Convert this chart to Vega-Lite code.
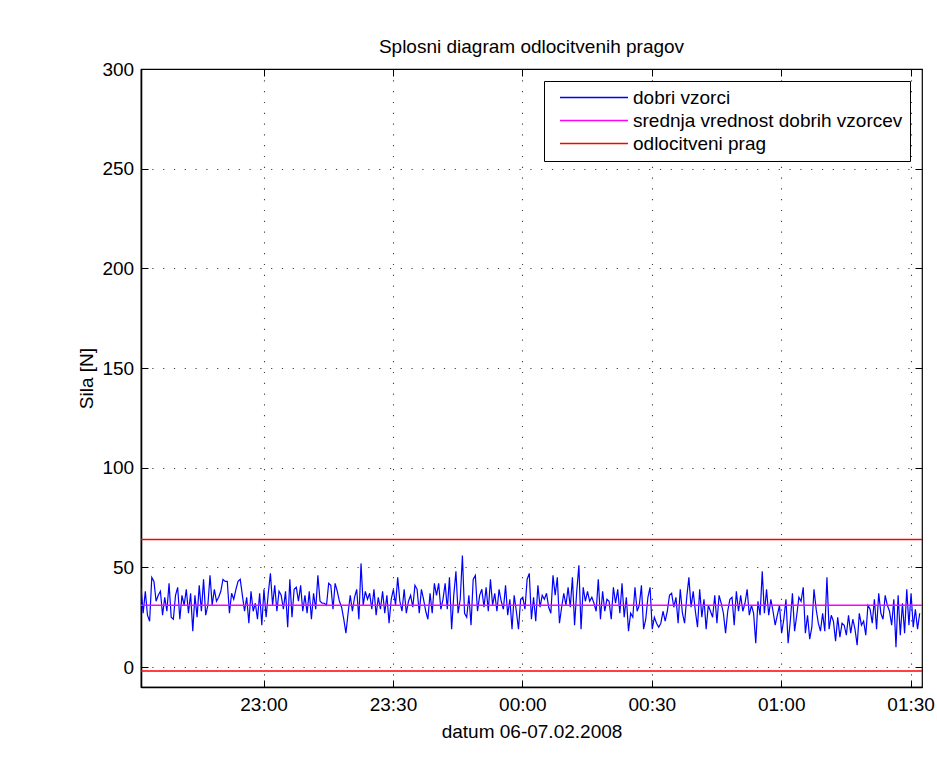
{
"$schema":"https://vega.github.io/schema/vega-lite/v6.json",
"width":781,"height":618,
"autosize":{"type":"none"},
"padding":{"left":141,"top":69,"right":15,"bottom":76},
"background":"white",
"config":{"font":"Liberation Sans","view":{"stroke":"black","strokeWidth":1.2},
"axis":{"labelFontSize":19,"labelColor":"black","titleFontSize":19,"titleFontWeight":"normal","titleColor":"black","domainColor":"black","domainWidth":1.6,"tickColor":"black","tickWidth":1,"tickSize":-7,"gridColor":"black","gridDash":[1.2,9.6],"gridWidth":1.1,"gridOpacity":0.75,"labelOverlap":false,"labelFlush":false},
"legend":{"orient":"top-right","offset":12,"title":null,"strokeColor":"black","fillColor":"white","padding":7,"cornerRadius":0,"symbolType":"stroke","symbolSize":4624,"symbolStrokeWidth":1.3,"symbolOffset":8,"labelFontSize":19,"labelColor":"black","labelOffset":4,"rowPadding":3,"labelLimit":500,"clipHeight":19}},
"title":{"text":"Splosni diagram odlocitvenih pragov","fontSize":19,"fontWeight":"normal","color":"black","font":"Liberation Sans","offset":3,"anchor":"middle"},
"datasets":{
"r":[{"s":"srednja vrednost dobrih vzorcev","y":31},{"s":"odlocitveni prag","y":64},{"s":"odlocitveni prag","y":-2}],
"s":[
{"t":"2008-02-06T22:31:36","v":40},
{"t":"2008-02-06T22:32:06","v":27},{"t":"2008-02-06T22:32:36","v":38},
{"t":"2008-02-06T22:33:06","v":26},{"t":"2008-02-06T22:33:36","v":23},
{"t":"2008-02-06T22:34:06","v":45},{"t":"2008-02-06T22:34:36","v":43},
{"t":"2008-02-06T22:35:06","v":33},{"t":"2008-02-06T22:35:36","v":36},
{"t":"2008-02-06T22:36:06","v":38},{"t":"2008-02-06T22:36:36","v":26},
{"t":"2008-02-06T22:37:06","v":35},{"t":"2008-02-06T22:37:36","v":28},
{"t":"2008-02-06T22:38:06","v":42},{"t":"2008-02-06T22:38:36","v":25},
{"t":"2008-02-06T22:39:06","v":24},{"t":"2008-02-06T22:39:36","v":36},
{"t":"2008-02-06T22:40:06","v":40},{"t":"2008-02-06T22:40:36","v":24},
{"t":"2008-02-06T22:41:06","v":36},{"t":"2008-02-06T22:41:36","v":31},
{"t":"2008-02-06T22:42:06","v":39},{"t":"2008-02-06T22:42:36","v":27},
{"t":"2008-02-06T22:43:06","v":37},{"t":"2008-02-06T22:43:36","v":18},
{"t":"2008-02-06T22:44:06","v":36},{"t":"2008-02-06T22:44:36","v":25},
{"t":"2008-02-06T22:45:06","v":41},{"t":"2008-02-06T22:45:36","v":28},
{"t":"2008-02-06T22:46:06","v":44},{"t":"2008-02-06T22:46:36","v":26},
{"t":"2008-02-06T22:47:06","v":31},{"t":"2008-02-06T22:47:36","v":46},
{"t":"2008-02-06T22:48:06","v":31},{"t":"2008-02-06T22:48:36","v":39},
{"t":"2008-02-06T22:49:06","v":33},{"t":"2008-02-06T22:49:36","v":35},
{"t":"2008-02-06T22:50:06","v":38},{"t":"2008-02-06T22:50:36","v":44},
{"t":"2008-02-06T22:51:06","v":43},{"t":"2008-02-06T22:51:36","v":43},
{"t":"2008-02-06T22:52:06","v":27},{"t":"2008-02-06T22:52:36","v":37},
{"t":"2008-02-06T22:53:06","v":34},{"t":"2008-02-06T22:53:36","v":39},
{"t":"2008-02-06T22:54:06","v":43},{"t":"2008-02-06T22:54:36","v":44},
{"t":"2008-02-06T22:55:06","v":36},{"t":"2008-02-06T22:55:36","v":28},
{"t":"2008-02-06T22:56:06","v":35},{"t":"2008-02-06T22:56:36","v":22},
{"t":"2008-02-06T22:57:06","v":38},{"t":"2008-02-06T22:57:36","v":28},
{"t":"2008-02-06T22:58:06","v":32},{"t":"2008-02-06T22:58:36","v":24},
{"t":"2008-02-06T22:59:06","v":37},{"t":"2008-02-06T22:59:36","v":21},
{"t":"2008-02-06T23:00:06","v":39},{"t":"2008-02-06T23:00:36","v":25},
{"t":"2008-02-06T23:01:06","v":37},{"t":"2008-02-06T23:01:36","v":47},
{"t":"2008-02-06T23:02:06","v":31},{"t":"2008-02-06T23:02:36","v":41},
{"t":"2008-02-06T23:03:06","v":28},{"t":"2008-02-06T23:03:36","v":38},
{"t":"2008-02-06T23:04:06","v":36},{"t":"2008-02-06T23:04:36","v":29},
{"t":"2008-02-06T23:05:06","v":38},{"t":"2008-02-06T23:05:36","v":20},
{"t":"2008-02-06T23:06:06","v":44},{"t":"2008-02-06T23:06:36","v":25},
{"t":"2008-02-06T23:07:06","v":39},{"t":"2008-02-06T23:07:36","v":40},
{"t":"2008-02-06T23:08:06","v":33},{"t":"2008-02-06T23:08:36","v":41},
{"t":"2008-02-06T23:09:06","v":28},{"t":"2008-02-06T23:09:36","v":36},
{"t":"2008-02-06T23:10:06","v":27},{"t":"2008-02-06T23:10:36","v":38},
{"t":"2008-02-06T23:11:06","v":24},{"t":"2008-02-06T23:11:36","v":37},
{"t":"2008-02-06T23:12:06","v":29},{"t":"2008-02-06T23:12:36","v":46},
{"t":"2008-02-06T23:13:06","v":33},{"t":"2008-02-06T23:13:36","v":32},
{"t":"2008-02-06T23:14:06","v":32},{"t":"2008-02-06T23:14:36","v":31},
{"t":"2008-02-06T23:15:06","v":42},{"t":"2008-02-06T23:15:36","v":41},
{"t":"2008-02-06T23:16:06","v":29},{"t":"2008-02-06T23:16:36","v":42},
{"t":"2008-02-06T23:17:06","v":38},{"t":"2008-02-06T23:17:36","v":33},
{"t":"2008-02-06T23:18:06","v":30},{"t":"2008-02-06T23:18:36","v":24},
{"t":"2008-02-06T23:19:06","v":17},{"t":"2008-02-06T23:19:36","v":27},
{"t":"2008-02-06T23:20:06","v":36},{"t":"2008-02-06T23:20:36","v":28},
{"t":"2008-02-06T23:21:06","v":35},{"t":"2008-02-06T23:21:36","v":39},
{"t":"2008-02-06T23:22:06","v":24},{"t":"2008-02-06T23:22:36","v":52},
{"t":"2008-02-06T23:23:06","v":31},{"t":"2008-02-06T23:23:36","v":38},
{"t":"2008-02-06T23:24:06","v":34},{"t":"2008-02-06T23:24:36","v":37},
{"t":"2008-02-06T23:25:06","v":29},{"t":"2008-02-06T23:25:36","v":39},
{"t":"2008-02-06T23:26:06","v":26},{"t":"2008-02-06T23:26:36","v":35},
{"t":"2008-02-06T23:27:06","v":29},{"t":"2008-02-06T23:27:36","v":38},
{"t":"2008-02-06T23:28:06","v":27},{"t":"2008-02-06T23:28:36","v":36},
{"t":"2008-02-06T23:29:06","v":22},{"t":"2008-02-06T23:29:36","v":34},
{"t":"2008-02-06T23:30:06","v":39},{"t":"2008-02-06T23:30:36","v":31},
{"t":"2008-02-06T23:31:06","v":45},{"t":"2008-02-06T23:31:36","v":33},
{"t":"2008-02-06T23:32:06","v":28},{"t":"2008-02-06T23:32:36","v":39},
{"t":"2008-02-06T23:33:06","v":27},{"t":"2008-02-06T23:33:36","v":33},
{"t":"2008-02-06T23:34:06","v":36},{"t":"2008-02-06T23:34:36","v":30},
{"t":"2008-02-06T23:35:06","v":41},{"t":"2008-02-06T23:35:36","v":39},
{"t":"2008-02-06T23:36:06","v":27},{"t":"2008-02-06T23:36:36","v":39},
{"t":"2008-02-06T23:37:06","v":34},{"t":"2008-02-06T23:37:36","v":28},
{"t":"2008-02-06T23:38:06","v":24},{"t":"2008-02-06T23:38:36","v":37},
{"t":"2008-02-06T23:39:06","v":27},{"t":"2008-02-06T23:39:36","v":42},
{"t":"2008-02-06T23:40:06","v":36},{"t":"2008-02-06T23:40:36","v":42},
{"t":"2008-02-06T23:41:06","v":29},{"t":"2008-02-06T23:41:36","v":34},
{"t":"2008-02-06T23:42:06","v":42},{"t":"2008-02-06T23:42:36","v":29},
{"t":"2008-02-06T23:43:06","v":45},{"t":"2008-02-06T23:43:36","v":19},
{"t":"2008-02-06T23:44:06","v":36},{"t":"2008-02-06T23:44:36","v":48},
{"t":"2008-02-06T23:45:06","v":27},{"t":"2008-02-06T23:45:36","v":34},
{"t":"2008-02-06T23:46:06","v":56},{"t":"2008-02-06T23:46:36","v":27},
{"t":"2008-02-06T23:47:06","v":25},{"t":"2008-02-06T23:47:36","v":36},
{"t":"2008-02-06T23:48:06","v":21},{"t":"2008-02-06T23:48:36","v":44},
{"t":"2008-02-06T23:49:06","v":46},{"t":"2008-02-06T23:49:36","v":28},
{"t":"2008-02-06T23:50:06","v":36},{"t":"2008-02-06T23:50:36","v":39},
{"t":"2008-02-06T23:51:06","v":30},{"t":"2008-02-06T23:51:36","v":40},
{"t":"2008-02-06T23:52:06","v":28},{"t":"2008-02-06T23:52:36","v":44},
{"t":"2008-02-06T23:53:06","v":31},{"t":"2008-02-06T23:53:36","v":37},
{"t":"2008-02-06T23:54:06","v":28},{"t":"2008-02-06T23:54:36","v":39},
{"t":"2008-02-06T23:55:06","v":33},{"t":"2008-02-06T23:55:36","v":29},
{"t":"2008-02-06T23:56:06","v":41},{"t":"2008-02-06T23:56:36","v":26},
{"t":"2008-02-06T23:57:06","v":34},{"t":"2008-02-06T23:57:36","v":19},
{"t":"2008-02-06T23:58:06","v":36},{"t":"2008-02-06T23:58:36","v":28},
{"t":"2008-02-06T23:59:06","v":19},{"t":"2008-02-06T23:59:36","v":34},
{"t":"2008-02-07T00:00:06","v":35},{"t":"2008-02-07T00:00:36","v":29},
{"t":"2008-02-07T00:01:06","v":44},{"t":"2008-02-07T00:01:36","v":47},
{"t":"2008-02-07T00:02:06","v":24},{"t":"2008-02-07T00:02:36","v":35},
{"t":"2008-02-07T00:03:06","v":23},{"t":"2008-02-07T00:03:36","v":41},
{"t":"2008-02-07T00:04:06","v":30},{"t":"2008-02-07T00:04:36","v":36},
{"t":"2008-02-07T00:05:06","v":34},{"t":"2008-02-07T00:05:36","v":37},
{"t":"2008-02-07T00:06:06","v":30},{"t":"2008-02-07T00:06:36","v":27},
{"t":"2008-02-07T00:07:06","v":46},{"t":"2008-02-07T00:07:36","v":36},
{"t":"2008-02-07T00:08:06","v":45},{"t":"2008-02-07T00:08:36","v":22},
{"t":"2008-02-07T00:09:06","v":30},{"t":"2008-02-07T00:09:36","v":37},
{"t":"2008-02-07T00:10:06","v":31},{"t":"2008-02-07T00:10:36","v":40},
{"t":"2008-02-07T00:11:06","v":30},{"t":"2008-02-07T00:11:36","v":45},
{"t":"2008-02-07T00:12:06","v":21},{"t":"2008-02-07T00:12:36","v":38},
{"t":"2008-02-07T00:13:06","v":51},{"t":"2008-02-07T00:13:36","v":19},
{"t":"2008-02-07T00:14:06","v":40},{"t":"2008-02-07T00:14:36","v":33},
{"t":"2008-02-07T00:15:06","v":38},{"t":"2008-02-07T00:15:36","v":33},
{"t":"2008-02-07T00:16:06","v":35},{"t":"2008-02-07T00:16:36","v":32},
{"t":"2008-02-07T00:17:06","v":28},{"t":"2008-02-07T00:17:36","v":44},
{"t":"2008-02-07T00:18:06","v":24},{"t":"2008-02-07T00:18:36","v":38},
{"t":"2008-02-07T00:19:06","v":28},{"t":"2008-02-07T00:19:36","v":34},
{"t":"2008-02-07T00:20:06","v":33},{"t":"2008-02-07T00:20:36","v":24},
{"t":"2008-02-07T00:21:06","v":40},{"t":"2008-02-07T00:21:36","v":32},
{"t":"2008-02-07T00:22:06","v":39},{"t":"2008-02-07T00:22:36","v":27},
{"t":"2008-02-07T00:23:06","v":42},{"t":"2008-02-07T00:23:36","v":25},
{"t":"2008-02-07T00:24:06","v":35},{"t":"2008-02-07T00:24:36","v":18},
{"t":"2008-02-07T00:25:06","v":27},{"t":"2008-02-07T00:25:36","v":25},
{"t":"2008-02-07T00:26:06","v":40},{"t":"2008-02-07T00:26:36","v":28},
{"t":"2008-02-07T00:27:06","v":31},{"t":"2008-02-07T00:27:36","v":41},
{"t":"2008-02-07T00:28:06","v":19},{"t":"2008-02-07T00:28:36","v":24},
{"t":"2008-02-07T00:29:06","v":35},{"t":"2008-02-07T00:29:36","v":40},
{"t":"2008-02-07T00:30:06","v":19},{"t":"2008-02-07T00:30:36","v":25},
{"t":"2008-02-07T00:31:06","v":22},{"t":"2008-02-07T00:31:36","v":20},
{"t":"2008-02-07T00:32:06","v":22},{"t":"2008-02-07T00:32:36","v":28},
{"t":"2008-02-07T00:33:06","v":23},{"t":"2008-02-07T00:33:36","v":28},
{"t":"2008-02-07T00:34:06","v":36},{"t":"2008-02-07T00:34:36","v":37},
{"t":"2008-02-07T00:35:06","v":30},{"t":"2008-02-07T00:35:36","v":35},
{"t":"2008-02-07T00:36:06","v":22},{"t":"2008-02-07T00:36:36","v":39},
{"t":"2008-02-07T00:37:06","v":27},{"t":"2008-02-07T00:37:36","v":22},
{"t":"2008-02-07T00:38:06","v":35},{"t":"2008-02-07T00:38:36","v":45},
{"t":"2008-02-07T00:39:06","v":30},{"t":"2008-02-07T00:39:36","v":38},
{"t":"2008-02-07T00:40:06","v":28},{"t":"2008-02-07T00:40:36","v":20},
{"t":"2008-02-07T00:41:06","v":39},{"t":"2008-02-07T00:41:36","v":25},
{"t":"2008-02-07T00:42:06","v":34},{"t":"2008-02-07T00:42:36","v":19},
{"t":"2008-02-07T00:43:06","v":31},{"t":"2008-02-07T00:43:36","v":28},
{"t":"2008-02-07T00:44:06","v":25},{"t":"2008-02-07T00:44:36","v":36},
{"t":"2008-02-07T00:45:06","v":22},{"t":"2008-02-07T00:45:36","v":36},
{"t":"2008-02-07T00:46:06","v":32},{"t":"2008-02-07T00:46:36","v":27},
{"t":"2008-02-07T00:47:06","v":17},{"t":"2008-02-07T00:47:36","v":28},
{"t":"2008-02-07T00:48:06","v":34},{"t":"2008-02-07T00:48:36","v":35},
{"t":"2008-02-07T00:49:06","v":21},{"t":"2008-02-07T00:49:36","v":38},
{"t":"2008-02-07T00:50:06","v":28},{"t":"2008-02-07T00:50:36","v":36},
{"t":"2008-02-07T00:51:06","v":28},{"t":"2008-02-07T00:51:36","v":32},
{"t":"2008-02-07T00:52:06","v":39},{"t":"2008-02-07T00:52:36","v":26},
{"t":"2008-02-07T00:53:06","v":31},{"t":"2008-02-07T00:53:36","v":27},
{"t":"2008-02-07T00:54:06","v":12},{"t":"2008-02-07T00:54:36","v":33},
{"t":"2008-02-07T00:55:06","v":26},{"t":"2008-02-07T00:55:36","v":48},
{"t":"2008-02-07T00:56:06","v":27},{"t":"2008-02-07T00:56:36","v":39},
{"t":"2008-02-07T00:57:06","v":26},{"t":"2008-02-07T00:57:36","v":34},
{"t":"2008-02-07T00:58:06","v":28},{"t":"2008-02-07T00:58:36","v":21},
{"t":"2008-02-07T00:59:06","v":26},{"t":"2008-02-07T00:59:36","v":31},
{"t":"2008-02-07T01:00:06","v":17},{"t":"2008-02-07T01:00:36","v":24},
{"t":"2008-02-07T01:01:06","v":34},{"t":"2008-02-07T01:01:36","v":12},
{"t":"2008-02-07T01:02:06","v":23},{"t":"2008-02-07T01:02:36","v":37},
{"t":"2008-02-07T01:03:06","v":18},{"t":"2008-02-07T01:03:36","v":26},
{"t":"2008-02-07T01:04:06","v":35},{"t":"2008-02-07T01:04:36","v":33},
{"t":"2008-02-07T01:05:06","v":40},{"t":"2008-02-07T01:05:36","v":17},
{"t":"2008-02-07T01:06:06","v":26},{"t":"2008-02-07T01:06:36","v":14},
{"t":"2008-02-07T01:07:06","v":20},{"t":"2008-02-07T01:07:36","v":39},
{"t":"2008-02-07T01:08:06","v":29},{"t":"2008-02-07T01:08:36","v":22},
{"t":"2008-02-07T01:09:06","v":18},{"t":"2008-02-07T01:09:36","v":27},
{"t":"2008-02-07T01:10:06","v":18},{"t":"2008-02-07T01:10:36","v":45},
{"t":"2008-02-07T01:11:06","v":19},{"t":"2008-02-07T01:11:36","v":26},
{"t":"2008-02-07T01:12:06","v":23},{"t":"2008-02-07T01:12:36","v":13},
{"t":"2008-02-07T01:13:06","v":25},{"t":"2008-02-07T01:13:36","v":15},
{"t":"2008-02-07T01:14:06","v":22},{"t":"2008-02-07T01:14:36","v":21},
{"t":"2008-02-07T01:15:06","v":16},{"t":"2008-02-07T01:15:36","v":26},
{"t":"2008-02-07T01:16:06","v":17},{"t":"2008-02-07T01:16:36","v":24},
{"t":"2008-02-07T01:17:06","v":19},{"t":"2008-02-07T01:17:36","v":11},
{"t":"2008-02-07T01:18:06","v":27},{"t":"2008-02-07T01:18:36","v":21},
{"t":"2008-02-07T01:19:06","v":23},{"t":"2008-02-07T01:19:36","v":16},
{"t":"2008-02-07T01:20:06","v":31},{"t":"2008-02-07T01:20:36","v":29},
{"t":"2008-02-07T01:21:06","v":22},{"t":"2008-02-07T01:21:36","v":34},
{"t":"2008-02-07T01:22:06","v":19},{"t":"2008-02-07T01:22:36","v":37},
{"t":"2008-02-07T01:23:06","v":27},{"t":"2008-02-07T01:23:36","v":24},
{"t":"2008-02-07T01:24:06","v":36},{"t":"2008-02-07T01:24:36","v":31},
{"t":"2008-02-07T01:25:06","v":28},{"t":"2008-02-07T01:25:36","v":21},
{"t":"2008-02-07T01:26:06","v":34},{"t":"2008-02-07T01:26:36","v":10},
{"t":"2008-02-07T01:27:06","v":36},{"t":"2008-02-07T01:27:36","v":16},
{"t":"2008-02-07T01:28:06","v":32},{"t":"2008-02-07T01:28:36","v":17},
{"t":"2008-02-07T01:29:06","v":39},{"t":"2008-02-07T01:29:36","v":21},
{"t":"2008-02-07T01:30:06","v":37},{"t":"2008-02-07T01:30:36","v":20},
{"t":"2008-02-07T01:31:06","v":29},{"t":"2008-02-07T01:31:36","v":19},
{"t":"2008-02-07T01:32:06","v":27}
]},
"resolve":{"axis":{"x":"independent","y":"independent"}},
"layer":[
{"data":{"name":"s"},
 "mark":{"type":"line","strokeWidth":1.2,"clip":true},
 "encoding":{
  "x":{"field":"t","type":"temporal",
   "scale":{"domain":[{"year":2008,"month":2,"date":6,"hours":22,"minutes":31,"seconds":36},{"year":2008,"month":2,"date":7,"hours":1,"minutes":32,"seconds":38}],"nice":false},
   "axis":{"orient":"bottom","title":"datum 06-07.02.2008","format":"%H:%M","grid":true,"labelPadding":15,"titlePadding":8,
    "values":[{"year":2008,"month":2,"date":6,"hours":23,"minutes":0},{"year":2008,"month":2,"date":6,"hours":23,"minutes":30},{"year":2008,"month":2,"date":7,"hours":0,"minutes":0},{"year":2008,"month":2,"date":7,"hours":0,"minutes":30},{"year":2008,"month":2,"date":7,"hours":1,"minutes":0},{"year":2008,"month":2,"date":7,"hours":1,"minutes":30}]}},
  "y":{"field":"v","type":"quantitative",
   "scale":{"domain":[-10,300],"nice":false,"zero":false},
   "axis":{"orient":"left","title":"Sila [N]","values":[0,50,100,150,200,250,300],"grid":true,"labelPadding":14.4,"titlePadding":5}},
  "color":{"datum":"dobri vzorci","type":"nominal","title":null,
   "scale":{"domain":["dobri vzorci","srednja vrednost dobrih vzorcev","odlocitveni prag"],"range":["#0000ff","#ff00ff","#ff0000"]},
   "legend":{"title":null}}
 }},
{"data":{"name":"r"},
 "mark":{"type":"rule","strokeWidth":1.4},
 "encoding":{
  "y":{"field":"y","type":"quantitative","axis":null},
  "color":{"field":"s","type":"nominal","title":null,"legend":{"title":null}}
 }},
{"data":{"name":"s"},
 "mark":{"type":"line","opacity":0},
 "encoding":{
  "x":{"field":"t","type":"temporal",
   "axis":{"orient":"top","title":null,"labels":false,"grid":false,"domain":false,
    "values":[{"year":2008,"month":2,"date":6,"hours":23,"minutes":0},{"year":2008,"month":2,"date":6,"hours":23,"minutes":30},{"year":2008,"month":2,"date":7,"hours":0,"minutes":0},{"year":2008,"month":2,"date":7,"hours":0,"minutes":30},{"year":2008,"month":2,"date":7,"hours":1,"minutes":0},{"year":2008,"month":2,"date":7,"hours":1,"minutes":30}]}},
  "y":{"field":"v","type":"quantitative",
   "axis":{"orient":"right","title":null,"labels":false,"grid":false,"domain":false,"values":[0,50,100,150,200,250,300]}}
 }}
]
}
